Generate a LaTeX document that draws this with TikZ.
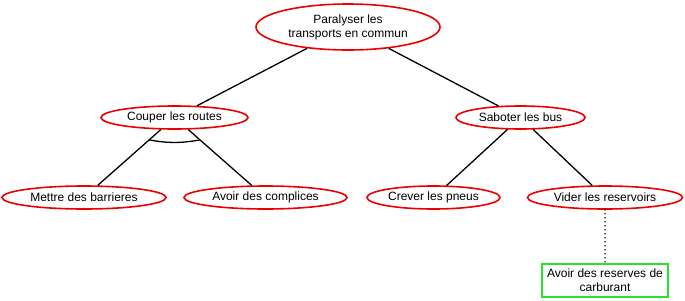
\documentclass[tikz,border=0pt]{standalone}
\usepackage{fontspec}
\setmainfont{Liberation Sans}
\usepackage{xcolor}
\usepackage{tikz}
\usetikzlibrary{shapes.geometric,calc}

\definecolor{goalred}{RGB}{238,0,0}
\definecolor{condgreen}{RGB}{40,228,40}

\begin{document}
\begin{tikzpicture}[
  x=1pt, y=-1pt,
  font=\fontsize{12}{14}\selectfont,
  goal/.style={draw=goalred, line width=1.6pt, ellipse, inner sep=0pt, minimum height=23pt, align=center},
  cond/.style={draw=condgreen, line width=1.6pt, inner sep=0pt, minimum width=126pt, minimum height=33pt, align=center},
  link/.style={line width=1.3pt},
  needs/.style={line width=1.6pt, line cap=round, dash pattern=on 0pt off 4pt}
]
\useasboundingbox (0,0) rectangle (685,300);

\node[goal, minimum width=184pt, minimum height=46pt] (root) at (348,27) {Paralyser les\\transports en commun};
\node[goal, minimum width=147pt] (routes) at (174.5,117.5) {Couper les routes};
\node[goal, minimum width=129pt] (bus) at (520.5,117.5) {Saboter les bus};
\node[goal, minimum width=164pt] (barr) at (84,197.5) {Mettre des barrieres};
\node[goal, minimum width=163pt] (compl) at (265.5,197.5) {Avoir des complices};
\node[goal, minimum width=133pt] (pneus) at (433.5,197.5) {Crever les pneus};
\node[goal, minimum width=155pt] (reserv) at (605,197.5) {Vider les reservoirs};
\node[cond] (carbu) at (605,280.5) {Avoir des reserves de\\carburant};

\draw[link] (root) -- (routes);
\draw[link] (root) -- (bus);
\draw[link] (routes) -- (barr);
\draw[link] (routes) -- (compl);
\draw[link] (bus) -- (pneus);
\draw[link] (bus) -- (reserv);

% both sub-goals are needed
\coordinate (andL) at ($(routes)!0.28!(barr)$);
\coordinate (andR) at ($(routes)!0.28!(compl)$);
\draw[link] (andL) to[bend right=10] (andR);

\draw[needs] (reserv) -- (carbu);
\end{tikzpicture}
\end{document}
